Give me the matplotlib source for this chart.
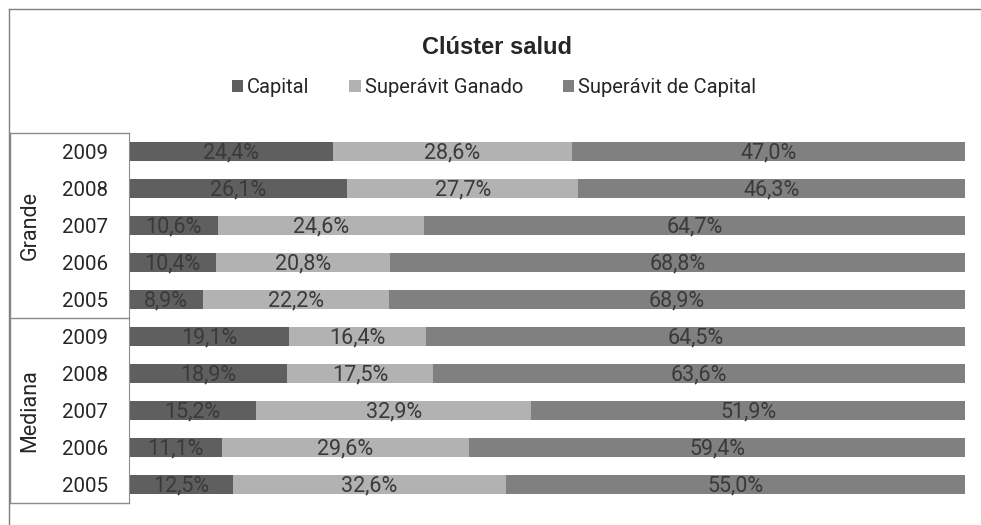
import matplotlib
matplotlib.use("Agg")
import matplotlib.pyplot as plt
from matplotlib.lines import Line2D
from matplotlib.patches import Patch
import numpy as np

groups = ["Grande", "Mediana"]
years = ["2009", "2008", "2007", "2006", "2005"]
series = ["Capital", "Superávit Ganado", "Superávit de Capital"]
capital = [24.4, 26.1, 10.6, 10.4, 8.9, 19.1, 18.9, 15.2, 11.1, 12.5]
ganado = [28.6, 27.7, 24.6, 20.8, 22.2, 16.4, 17.5, 32.9, 29.6, 32.6]
sup_capital = [47.0, 46.3, 64.7, 68.8, 68.9, 64.5, 63.6, 51.9, 59.4, 55.0]
colors = ["#5f5f5f", "#b2b2b2", "#808080"]

plt.rcParams['font.family'] = ["Roboto", "DejaVu Sans"]

W, H = 981, 525
fig = plt.figure(figsize=(W / 100, H / 100), dpi=100)
ax_left, ax_right, ax_top, ax_bot = 129, 965, 133, 503
ax = fig.add_axes([ax_left / W, 1 - ax_bot / H, (ax_right - ax_left) / W, (ax_bot - ax_top) / H])

vals = np.array([capital, ganado, sup_capital], dtype=float)
totals = vals.sum(axis=0)
pct = vals / totals * 100
n = vals.shape[1]
ypos = np.arange(n)
left = np.zeros(n)
for k in range(3):
    ax.barh(ypos, pct[k], left=left, height=0.54, color=colors[k], label=series[k])
    for i in range(n):
        ax.text(left[i] + pct[k][i] / 2, ypos[i] + 0.04, f"{vals[k][i]:.1f}".replace(".", ",") + "%",
                ha="center", va="center", fontsize=15.5, color="#3a3a3a")
    left = left + pct[k]

ax.set_xlim(0, 100)
ax.set_ylim(n - 0.5, -0.5)
ax.set_xticks([])
ax.set_yticks(ypos)
ax.set_yticklabels(years * len(groups), fontsize=14.8, color="#262626")
ax.tick_params(axis="y", length=0, pad=15)
for s in ["top", "right", "bottom"]:
    ax.spines[s].set_visible(False)
ax.spines["left"].set_color("#8c8c8c")

# category group boxes
xbox = (10 - ax_left) / (ax_right - ax_left)
trans = ax.get_yaxis_transform()
for yb in [-0.5, 4.5, 9.5]:
    ax.add_line(Line2D([xbox, 0], [yb, yb], transform=trans, color="#8c8c8c", lw=1, clip_on=False))
ax.add_line(Line2D([xbox, xbox], [-0.5, 9.5], transform=trans, color="#8c8c8c", lw=1, clip_on=False))
xg = (30 - ax_left) / (ax_right - ax_left)
for gi, g in enumerate(groups):
    ax.text(xg, gi * 5 + 2, g, transform=trans, rotation=90, ha="center", va="center",
            fontsize=15.5, color="#262626")

# title and legend
fig.text(497 / W, 1 - 47 / H, "Clúster salud", ha="center", va="center", fontsize=17,
         fontweight="bold", family=["Liberation Sans", "DejaVu Sans"], color="#262626")
handles = [Patch(facecolor=c, edgecolor="none") for c in colors]
fig.legend(handles, series, loc="center", bbox_to_anchor=(494 / W, 1 - 88 / H), ncol=3,
           frameon=False, fontsize=14.5, handlelength=0.55, handleheight=0.55, handletextpad=0.2,
           columnspacing=2.0, labelcolor="#262626")

# outer frame
fig.add_artist(Line2D([9 / W, 9 / W], [0, 1 - 9 / H], transform=fig.transFigure, color="#7f7f7f", lw=1))
fig.add_artist(Line2D([9 / W, 1], [1 - 9 / H, 1 - 9 / H], transform=fig.transFigure, color="#7f7f7f", lw=1))

fig.savefig("out.png", dpi=100)
